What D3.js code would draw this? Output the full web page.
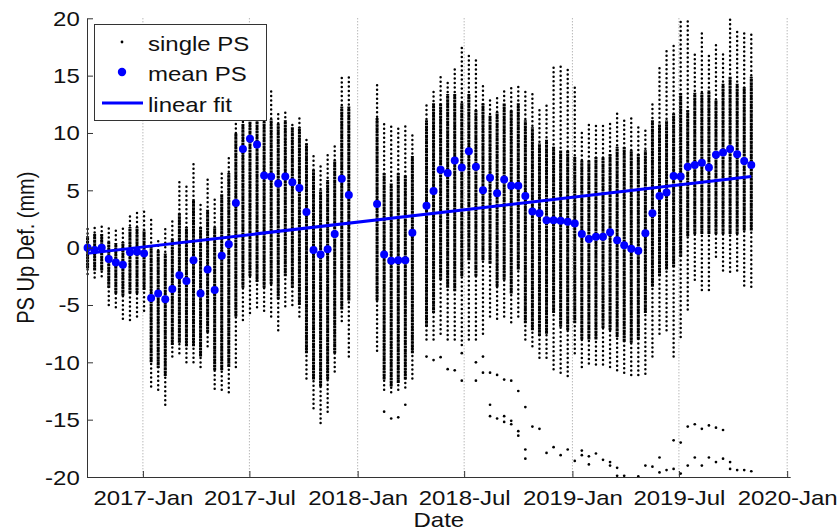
<!DOCTYPE html>
<html>
<head>
<meta charset="utf-8">
<script src="https://cdn.jsdelivr.net/npm/d3@7"></script>
<style>
  body{margin:0;background:#fff;}
  text{font-family:"Liberation Sans",Arial,Helvetica,sans-serif;fill:#111;}
</style>
</head>
<body>
<div id="Chart"></div>
<script>
// acquisition dates (12-day revisit, a few gaps)
const dates = [
  "2016-09-29","2016-10-11","2016-10-23","2016-11-04","2016-11-16","2016-11-28","2016-12-10","2016-12-22",
  "2017-01-03","2017-01-15","2017-01-27","2017-02-08","2017-02-20","2017-03-04","2017-03-16","2017-03-28",
  "2017-04-09","2017-04-21","2017-05-03","2017-05-15","2017-05-27","2017-06-08","2017-06-20","2017-07-02",
  "2017-07-14","2017-07-26","2017-08-07","2017-08-19","2017-08-31","2017-09-12","2017-09-24","2017-10-06",
  "2017-10-18","2017-10-30","2017-11-11","2017-11-23","2017-12-05","2017-12-17",
  "2018-02-03","2018-02-15","2018-02-27","2018-03-11","2018-03-23","2018-04-04",
  "2018-04-28","2018-05-10","2018-05-22","2018-06-03","2018-06-15","2018-06-27","2018-07-09","2018-07-21",
  "2018-08-02","2018-08-14","2018-08-26","2018-09-07","2018-09-19","2018-10-01","2018-10-13","2018-10-25",
  "2018-11-06","2018-11-18","2018-11-30","2018-12-12","2018-12-24","2019-01-05","2019-01-17","2019-01-29",
  "2019-02-10","2019-02-22","2019-03-06","2019-03-18","2019-03-30","2019-04-11","2019-04-23","2019-05-05",
  "2019-05-17","2019-05-29","2019-06-10","2019-06-22","2019-07-04","2019-07-16","2019-07-28","2019-08-09",
  "2019-08-21","2019-09-02","2019-09-14","2019-09-26","2019-10-08","2019-10-20","2019-11-01"
]
// mean PS displacement (mm)
const meanPS = [
  0.0,-0.2,0.0,-1.0,-1.3,-1.5,-0.4,-0.35,
  -0.5,-4.4,-4.0,-4.5,-3.6,-2.4,-2.9,-1.1,
  -4.0,-1.9,-3.7,-0.7,0.3,3.9,8.6,9.5,
  9.0,6.3,6.2,5.6,6.2,5.7,5.2,3.1,
  -0.2,-0.6,-0.15,1.2,6.0,4.6,
  3.8,-0.6,-1.15,-1.1,-1.1,1.3,
  3.65,4.95,6.8,6.5,7.6,7.0,8.4,7.05,
  5.0,6.1,4.75,5.95,5.4,5.4,4.5,3.15,
  3.0,2.4,2.4,2.35,2.25,2.1,1.2,0.75,
  0.95,0.95,1.35,0.65,0.2,-0.1,-0.28,1.25,
  3.0,4.5,4.8,6.25,6.2,7.05,7.2,7.4,
  7.0,8.1,8.3,8.6,8.15,7.55,7.2
]
// spread of the single PS values per date: sparse tails and dense core
const psLow = [
  -2.3,-2.6,-2.5,-5.0,-5.2,-6.2,-6.3,-6.0,
  -5.5,-12.1,-12.4,-13.7,-9.5,-9.2,-10.0,-10.0,
  -10.4,-8.6,-12.3,-12.4,-12.6,-10.4,-6.3,-5.7,
  -5.2,-5.5,-6.0,-7.2,-5.1,-5.0,-6.0,-11.4,
  -14.0,-15.3,-14.3,-10.8,-6.4,-9.5,
  -9.0,-12.4,-12.6,-12.4,-12.2,-11.4,
  -8.0,-8.0,-7.5,-8.0,-8.0,-8.5,-8.0,-8.0,
  -7.5,-6.0,-6.2,-6.0,-6.5,-6.0,-8.0,-8.6,
  -9.6,-9.6,-10.6,-10.9,-11.2,-9.2,-10.4,-10.1,
  -10.2,-10.2,-10.4,-10.7,-10.9,-11.1,-11.1,-11.0,
  -9.5,-7.5,-7.2,-9.5,-7.8,-5.4,-2.8,-3.7,
  -3.7,-0.8,-2.0,-2.1,-2.0,-3.3,-3.4
]
const psCoreLow = [
  -1.8,-2.0,-2.0,-3.5,-4.0,-4.2,-4.0,-4.0,
  -3.7,-10.0,-10.5,-11.2,-8.5,-8.3,-8.6,-8.6,
  -9.5,-7.4,-10.7,-10.7,-10.4,-6.0,-3.5,-2.5,
  -3.0,-3.5,-3.2,-4.5,-2.5,-3.5,-5.0,-9.2,
  -11.5,-12.1,-11.5,-9.2,-5.4,-4.6,
  -4.6,-11.5,-12.1,-11.8,-11.5,-9.2,
  -6.9,-5.7,-2.8,-3.5,-3.8,-2.5,-1.1,-2.5,
  -1.1,-1.4,-3.4,-2.8,-4.0,-1.9,-6.6,-7.2,
  -7.7,-7.5,-5.7,-6.9,-7.2,-6.6,-8.0,-8.0,
  -8.0,-7.0,-7.2,-7.8,-8.2,-8.3,-8.0,-5.7,
  -3.4,-2.5,-1.9,-1.7,-0.8,1.0,1.2,1.2,
  1.2,1.2,1.2,1.2,1.2,1.5,1.5
]
const psCoreHigh = [
  1.0,1.2,1.2,0.6,0.4,0.5,1.8,1.8,
  1.5,0.1,-0.2,-0.5,0.8,3.0,1.8,4.2,
  1.8,3.3,1.8,4.7,6.5,10.0,10.8,11.0,
  11.0,11.0,11.2,10.8,11.1,10.5,10.5,9.1,
  6.8,5.0,5.9,7.6,12.3,12.3,
  11.3,6.5,5.6,6.5,6.3,8.0,
  11.1,12.6,12.6,13.4,13.4,12.6,13.4,12.0,
  12.6,11.5,11.8,12.6,12.0,12.6,11.1,10.5,
  9.1,9.4,8.8,8.5,8.5,7.9,7.6,7.6,
  7.9,7.9,8.2,8.8,8.8,8.5,8.2,8.5,
  11.1,10.8,11.1,11.7,13.5,12.0,13.5,13.5,
  13.7,12.9,14.3,14.9,14.3,14.0,14.9
]
const psHigh = [
  2.0,2.1,2.1,1.8,1.5,1.8,3.0,3.3,
  3.3,2.7,0.7,1.7,2.6,6.0,5.6,7.6,
  4.0,6.0,4.2,6.8,8.1,11.1,11.3,11.6,
  11.5,12.0,13.7,11.7,11.9,11.0,11.4,9.7,
  8.2,7.4,8.1,9.1,15.0,15.0,
  14.3,10.9,10.9,10.7,10.9,10.1,
  12.7,13.9,15.1,14.5,15.6,17.6,16.9,16.6,
  14.2,13.2,13.2,14.0,14.0,14.1,13.6,13.4,
  12.1,12.6,15.7,16.1,15.5,14.3,10.2,10.8,
  10.7,10.8,11.1,11.7,11.4,11.3,10.5,10.5,
  12.7,16.0,17.2,17.8,19.7,19.8,16.9,18.7,
  16.9,17.7,17.2,20.0,19.1,18.8,18.6
]
// isolated single PS points far below the cloud
const singleOutliers = [
  ["2018-02-15",-14.3],["2018-02-27",-14.9],["2018-03-11",-14.8],["2018-03-23",-13.7],
  ["2018-04-28",-9.5],["2018-05-10",-9.8],["2018-05-22",-9.55],["2018-06-03",-10.6],
  ["2018-06-15",-10.7],["2018-06-27",-11.6],["2018-06-27",-9.2],["2018-07-21",-10.0],
  ["2018-07-21",-11.6],["2018-08-02",-9.5],["2018-08-02",-10.9],["2018-08-14",-10.9],
  ["2018-08-14",-13.7],["2018-08-14",-14.7],["2018-08-26",-11.1],["2018-08-26",-14.9],
  ["2018-09-07",-11.5],["2018-09-07",-14.7],["2018-09-07",-15.2],["2018-09-19",-11.6],
  ["2018-09-19",-15.1],["2018-09-19",-15.4],["2018-10-01",-12.5],["2018-10-01",-16.0],
  ["2018-10-01",-16.4],["2018-10-13",-13.9],["2018-10-13",-17.6],["2018-10-13",-18.4],
  ["2018-10-25",-15.6],["2018-11-06",-15.8],["2018-11-18",-17.9],["2018-11-30",-17.4],
  ["2018-12-12",-18.1],["2018-12-24",-17.6],["2019-01-05",-18.6],["2019-01-17",-17.7],
  ["2019-01-17",-18.1],["2019-01-29",-18.2],["2019-01-29",-18.9],["2019-02-10",-17.95],
  ["2019-02-22",-18.5],["2019-03-06",-18.7],["2019-03-06",-19.0],["2019-03-18",-19.2],
  ["2019-03-18",-19.9],["2019-03-30",-19.9],["2019-04-23",-19.95],["2019-05-05",-19.0],
  ["2019-05-17",-19.1],["2019-05-29",-18.3],["2019-05-29",-19.6],["2019-06-10",-19.4],
  ["2019-06-22",-16.8],["2019-06-22",-19.3],["2019-07-04",-17.0],["2019-07-04",-19.7],
  ["2019-07-16",-15.6],["2019-07-16",-19.0],["2019-07-28",-15.4],["2019-07-28",-18.3],
  ["2019-08-09",-15.8],["2019-08-09",-19.0],["2019-08-21",-15.5],["2019-08-21",-18.3],
  ["2019-09-02",-15.7],["2019-09-02",-18.7],["2019-09-14",-15.9],["2019-09-14",-18.4],
  ["2019-09-26",-18.7],["2019-09-26",-19.3],["2019-10-08",-19.4],["2019-10-20",-19.4],
  ["2019-11-01",-19.5]
]
// linear fit end points
const fitDates = ["2016-09-29","2019-11-01"]
const fitValues = [-0.5, 6.2]

const xDomain = ["2016-09-28","2020-01-07"]
const xTickDates = ["2017-01-01","2017-07-01","2018-01-01","2018-07-01","2019-01-01","2019-07-01","2020-01-01"]
const yTicks = [-20,-15,-10,-5,0,5,10,15,20]
const legendLabels = ["single PS","mean PS","linear fit"]

var parse = d3.timeParse("%Y-%m-%d")
var margin = {top: 18.3, right: 47.3, bottom: 55, left: 87},
    Width = 838,
    Height = 532,
    width = Width - margin.left - margin.right,
    height = Height - margin.top - margin.bottom,
    sx = 1.2   // glyphs in the picture are stretched horizontally

var svg = d3.select("#Chart")
  .append("svg")
    .attr("width", Width)
    .attr("height", Height)
  .append("g")
    .attr("transform", `translate(${margin.left},${margin.top})`)

var X = d3.scaleTime()
  .domain(xDomain.map(parse))
  .range([0, width])
var Y = d3.scaleLinear()
  .domain([-20, 20])
  .range([height, 0])

// dotted vertical grid
svg.append("g")
  .selectAll("line")
  .data(xTickDates.map(parse))
  .enter()
  .append("line")
    .attr("x1", d => X(d)).attr("x2", d => X(d))
    .attr("y1", 0).attr("y2", height)
    .attr("stroke", "#9a9a9a")
    .attr("stroke-width", 1)
    .attr("stroke-dasharray", "1 2")

svg.append("defs").append("clipPath")
    .attr("id", "clip")
  .append("rect")
    .attr("x", -5).attr("y", -3)
    .attr("width", width + 10).attr("height", height + 6)

var plot = svg.append("g").attr("clip-path", "url(#clip)")

var cols = dates.map((d, i) => ({
  date: parse(d), lo: psLow[i], cLo: psCoreLow[i], cHi: psCoreHigh[i], hi: psHigh[i], mean: meanPS[i]
}))

// sparse tails of single PS
plot.append("g")
  .selectAll("line")
  .data(cols)
  .enter()
  .append("line")
    .attr("x1", d => X(d.date)).attr("x2", d => X(d.date))
    .attr("y1", d => Y(d.lo)).attr("y2", d => Y(d.hi))
    .attr("stroke", "#000")
    .attr("stroke-width", 2.5)
    .attr("stroke-linecap", "round")
    .attr("stroke-dasharray", "0 4.5")

// dense core of single PS
plot.append("g")
  .selectAll("line")
  .data(cols)
  .enter()
  .append("line")
    .attr("x1", d => X(d.date)).attr("x2", d => X(d.date))
    .attr("y1", d => Y(d.cLo)).attr("y2", d => Y(d.cHi))
    .attr("stroke", "#000")
    .attr("stroke-width", 3)
    .attr("stroke-dasharray", "2.6 0.5")

plot.append("g")
  .selectAll("circle")
  .data(singleOutliers)
  .enter()
  .append("circle")
    .attr("cx", d => X(parse(d[0])))
    .attr("cy", d => Y(d[1]))
    .attr("r", 1.35)
    .attr("fill", "#000")

// mean PS
plot.append("g")
  .selectAll("circle")
  .data(cols)
  .enter()
  .append("circle")
    .attr("cx", d => X(d.date))
    .attr("cy", d => Y(d.mean))
    .attr("r", 4)
    .attr("fill", "#0000ff")

// linear fit
plot.append("path")
  .datum(fitDates.map((d, i) => [parse(d), fitValues[i]]))
  .attr("fill", "none")
  .attr("stroke", "#0000ff")
  .attr("stroke-width", 3)
  .attr("d", d3.line().x(d => X(d[0])).y(d => Y(d[1])))

// axes, ticks pointing inwards like the original
var xAxis = svg.append("g")
  .attr("transform", `translate(0,${height})`)
  .call(d3.axisBottom(X)
    .tickValues(xTickDates.map(parse))
    .tickFormat(d3.timeFormat("%Y-%b"))
    .tickSizeInner(-6)
    .tickSizeOuter(0))
xAxis.selectAll("text")
  .attr("dy", null)
  .attr("y", 28)
  .attr("transform", `scale(${sx},1)`)
  .style("font-size", "20px")

var yAxis = svg.append("g")
  .call(d3.axisLeft(Y)
    .tickValues(yTicks)
    .tickFormat(d => String(d))
    .tickSizeInner(-6)
    .tickSizeOuter(0))
yAxis.selectAll("text")
  .attr("x", -6)
  .attr("dy", "0.35em")
  .attr("transform", `scale(${sx},1)`)
  .style("font-size", "20px")

svg.selectAll(".domain, .tick line").attr("stroke", "#333")
svg.selectAll(".tick text").attr("fill", "#111")
xAxis.select(".domain").attr("d", `M0,0.5H${width}`)

svg.append("text")
  .attr("transform", `translate(${width / 2},${Height - margin.top - 5}) scale(${sx},1)`)
  .attr("text-anchor", "middle")
  .style("font-size", "20px")
  .text("Date")

svg.append("text")
  .attr("transform", `translate(${34 - margin.left},${height / 2}) rotate(-90) scale(1,${sx})`)
  .attr("text-anchor", "middle")
  .style("font-size", "20px")
  .text("PS Up Def. (mm)")

// legend
var legend = svg.append("g")
  .attr("transform", `translate(${94 - margin.left},${24 - margin.top})`)
legend.append("rect")
  .attr("x", 0.5).attr("y", 0.5)
  .attr("width", 172).attr("height", 96)
  .attr("fill", "#fff")
  .attr("stroke", "#333")
var rowY = [18, 48, 79]
legend.append("circle").attr("cx", 28).attr("cy", rowY[0]).attr("r", 1.4).attr("fill", "#000")
legend.append("circle").attr("cx", 28).attr("cy", rowY[1]).attr("r", 4.2).attr("fill", "#0000ff")
legend.append("line")
  .attr("x1", 8).attr("x2", 49)
  .attr("y1", rowY[2]).attr("y2", rowY[2])
  .attr("stroke", "#0000ff").attr("stroke-width", 3)
legend.selectAll("text.lab")
  .data(legendLabels)
  .enter()
  .append("text")
    .attr("class", "lab")
    .attr("transform", (d, i) => `translate(54,${rowY[i] + 9}) scale(${sx},1)`)
    .style("font-size", "20px")
    .text(d => d)
</script>
</body>
</html>
